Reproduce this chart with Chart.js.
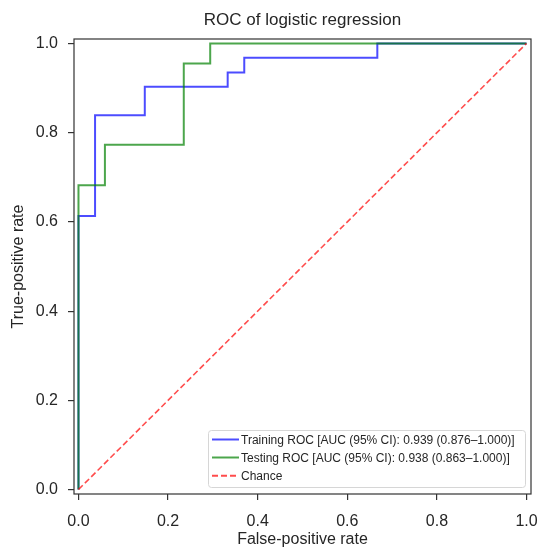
<!DOCTYPE html>
<html>
<head>
<meta charset="utf-8">
<script src="https://cdn.jsdelivr.net/npm/chart.js@4/dist/chart.umd.min.js"></script>
<style>
  html, body { margin: 0; padding: 0; background: #fff; }
  #wrap { width: 540px; height: 549px; }
</style>
</head>
<body>
<div id="wrap"><canvas id="roc" width="540" height="549"></canvas></div>
<script>
// ROC curve points (fpr, tpr)
const trainFpr = [0, 0, 0.037, 0.037, 0.148, 0.148, 0.333, 0.333, 0.370, 0.370, 0.667, 0.667, 1.0];
const trainTpr = [0, 0.613, 0.613, 0.839, 0.839, 0.903, 0.903, 0.935, 0.935, 0.968, 0.968, 1.0, 1.0];
const testFpr = [0, 0, 0.059, 0.059, 0.235, 0.235, 0.294, 0.294, 1.0];
const testTpr = [0, 0.682, 0.682, 0.773, 0.773, 0.955, 0.955, 1.0, 1.0];
const chanceX = [0, 1];
const chanceY = [0, 1];
const tickValues = [0, 0.2, 0.4, 0.6, 0.8, 1.0];

const seriesLabels = [
  'Training ROC [AUC (95% CI): 0.939 (0.876\u20131.000)]',
  'Testing ROC [AUC (95% CI): 0.938 (0.863\u20131.000)]',
  'Chance'
];
const titleText = 'ROC of logistic regression';

const FONT = "'Liberation Sans', Arial, Helvetica, sans-serif";
const INK = '#262626';

function toPoints(xs, ys) {
  return xs.map((x, i) => ({ x: x, y: ys[i] }));
}

// frame, title and legend drawn inside the plot like matplotlib does
const framePlugin = {
  id: 'frame',
  afterDraw(chart) {
    const ctx = chart.ctx;
    const a = chart.chartArea;
    ctx.save();
    ctx.strokeStyle = '#333';
    ctx.lineWidth = 1.2;
    ctx.strokeRect(a.left, a.top, a.right - a.left, a.bottom - a.top);

    // title
    ctx.fillStyle = INK;
    ctx.font = '17px ' + FONT;
    ctx.textAlign = 'center';
    ctx.textBaseline = 'middle';
    ctx.fillText(titleText, (a.left + a.right) / 2, 20);

    // legend box
    const bx = 208, by = 430, bw = 317, bh = 57;
    ctx.fillStyle = 'rgba(255,255,255,0.8)';
    ctx.strokeStyle = '#d6d6d6';
    ctx.lineWidth = 1;
    ctx.beginPath();
    ctx.roundRect(bx + 0.5, by + 0.5, bw, bh, 3);
    ctx.fill();
    ctx.stroke();

    ctx.font = '12px ' + FONT;
    ctx.textAlign = 'left';
    const rows = [439.5, 457.5, 475.7];
    chart.data.datasets.forEach((ds, i) => {
      ctx.strokeStyle = ds.borderColor;
      ctx.lineWidth = 2;
      ctx.setLineDash(ds.borderDash || []);
      ctx.beginPath();
      ctx.moveTo(212, rows[i]);
      ctx.lineTo(239, rows[i]);
      ctx.stroke();
      ctx.setLineDash([]);
      ctx.fillStyle = INK;
      ctx.fillText(ds.label, 241, rows[i] + 1);
    });
    ctx.restore();
  }
};

function fixTicks(scale) {
  scale.ticks = tickValues.map(v => ({ value: v }));
}

const axisCommon = {
  type: 'linear',
  min: -0.01,
  max: 1.01,
  afterBuildTicks: fixTicks,
  border: { display: false },
  grid: {
    display: true,
    drawOnChartArea: false,
    drawTicks: true,
    tickLength: 6,
    color: '#333',
    lineWidth: 1.2
  }
};

new Chart(document.getElementById('roc'), {
  type: 'scatter',
  data: {
    datasets: [
      {
        label: seriesLabels[0],
        data: toPoints(trainFpr, trainTpr),
        borderColor: 'rgba(0,0,255,0.7)',
        borderWidth: 2,
        showLine: true,
        pointRadius: 0,
        order: 3
      },
      {
        label: seriesLabels[1],
        data: toPoints(testFpr, testTpr),
        borderColor: 'rgba(0,128,0,0.7)',
        borderWidth: 2,
        showLine: true,
        pointRadius: 0,
        order: 2
      },
      {
        label: seriesLabels[2],
        data: toPoints(chanceX, chanceY),
        borderColor: 'rgba(255,0,0,0.7)',
        borderWidth: 1.6,
        borderDash: [6, 3],
        showLine: true,
        pointRadius: 0,
        order: 1
      }
    ]
  },
  options: {
    responsive: false,
    animation: false,
    layout: { padding: { top: 39, right: 9, left: 0, bottom: 0 } },
    plugins: {
      legend: { display: false },
      tooltip: { enabled: false }
    },
    scales: {
      x: Object.assign({}, axisCommon, {
        position: 'bottom',
        afterFit(scale) {
          scale.height = 55;
          scale.paddingLeft = 0;
          scale.paddingRight = 0;
        },
        ticks: {
          color: INK,
          padding: 12,
          font: { family: FONT, size: 16 },
          callback: v => v.toFixed(1)
        },
        title: {
          display: true,
          text: 'False-positive rate',
          color: INK,
          font: { family: FONT, size: 16 },
          padding: { top: 0, bottom: 0 }
        }
      }),
      y: Object.assign({}, axisCommon, {
        position: 'left',
        afterFit(scale) {
          scale.width = 74;
          scale.paddingTop = 0;
          scale.paddingBottom = 0;
        },
        ticks: {
          color: INK,
          padding: 10,
          font: { family: FONT, size: 16 },
          callback: v => v.toFixed(1)
        },
        title: {
          display: true,
          text: 'True-positive rate',
          color: INK,
          font: { family: FONT, size: 16 },
          padding: { top: 9, bottom: 0 }
        }
      })
    }
  },
  plugins: [framePlugin]
});
</script>
</body>
</html>
